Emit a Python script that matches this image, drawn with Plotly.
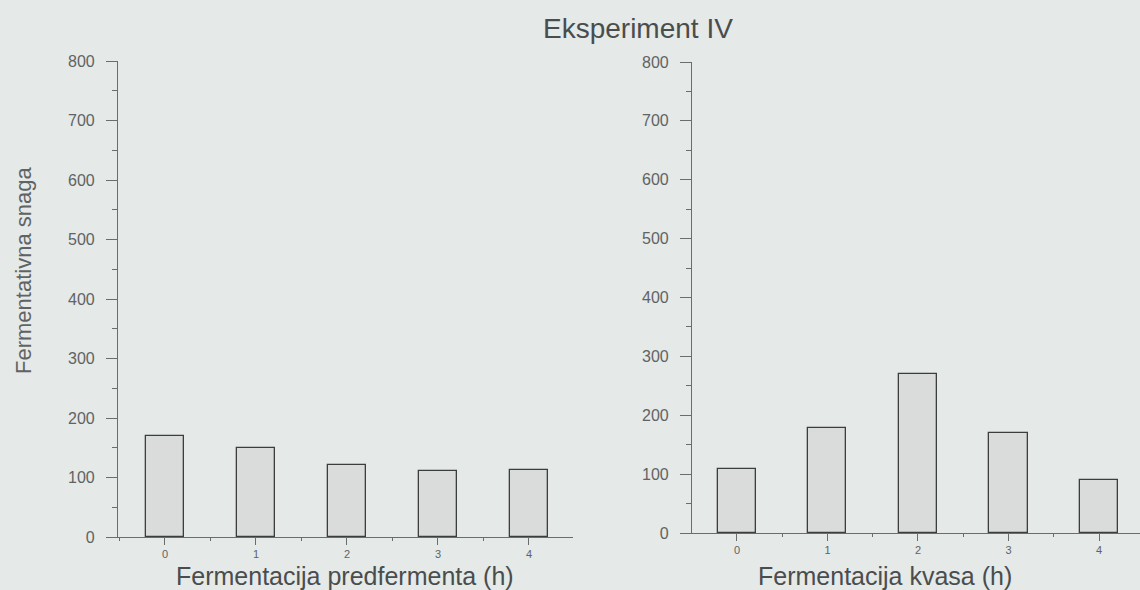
import plotly.graph_objects as go

# Data
hours = [0, 1, 2, 3, 4]
predferment_values = [170, 150, 121, 111, 113]
kvas_values = [109, 178, 270, 170, 90]
y_ticks = [0, 100, 200, 300, 400, 500, 600, 700, 800]

title_text = "Eksperiment IV"
y_title = "Fermentativna snaga"
x_title_left = "Fermentacija predfermenta (h)"
x_title_right = "Fermentacija kvasa (h)"

BG = "#e5e9e8"
TXT = "#5f6363"
AX = "#6a6d6d"
FONT = "Liberation Sans, Arial, sans-serif"

fig = go.Figure()
bar_style = dict(marker=dict(color="#d9dcda", line=dict(color="#3c3e3e", width=1.3)),
                 width=0.42, showlegend=False, hoverinfo="x+y")
fig.add_trace(go.Bar(x=hours, y=predferment_values, xaxis="x", yaxis="y", **bar_style))
fig.add_trace(go.Bar(x=hours, y=kvas_values, xaxis="x2", yaxis="y2", **bar_style))

def xaxis(domain, rng, anchor):
    return dict(domain=domain, range=rng, anchor=anchor, tickmode="linear", tick0=0, dtick=1,
                automargin=False,
                showline=True, linecolor=AX, linewidth=1.2, ticks="outside", ticklen=7,
                tickcolor=AX, tickwidth=1.2, showgrid=False, zeroline=False,
                tickfont=dict(family=FONT, size=11, color=TXT), ticklabelstandoff=0,
                minor=dict(ticks="outside", ticklen=3, tickcolor=AX, dtick=0.5, tick0=0.5,
                           showgrid=False),
                fixedrange=True)

def yaxis(domain, anchor):
    return dict(domain=domain, range=[0, 800], anchor=anchor, tickmode="array", tickvals=y_ticks,
                automargin=False,
                showline=True, linecolor=AX, linewidth=1.2, ticks="outside", ticklen=11,
                tickcolor=AX, tickwidth=1.2, showgrid=False, zeroline=False,
                tickfont=dict(family=FONT, size=16, color=TXT), ticklabelstandoff=8,
                minor=dict(ticks="outside", ticklen=5, tickcolor=AX, dtick=50, tick0=50,
                           showgrid=False),
                fixedrange=True)

fig.update_layout(
    width=1140, height=590,
    margin=dict(l=0, r=0, t=0, b=0, pad=0, autoexpand=False),
    paper_bgcolor=BG, plot_bgcolor=BG,
    bargap=0,
    xaxis=xaxis([118 / 1140, 573 / 1140], [-0.516, 4.484], "y"),
    yaxis=yaxis([1 - 537 / 590, 1 - 61 / 590], "x"),
    xaxis2=xaxis([692 / 1140, 1.0], [-0.497, 4.453], "y2"),
    yaxis2=yaxis([1 - 533 / 590, 1 - 62 / 590], "x2"),
    annotations=[
        dict(text=title_text, x=638 / 1140, y=1 - 28 / 590, xref="paper", yref="paper",
             showarrow=False, xanchor="center", yanchor="middle",
             font=dict(family=FONT, size=28, color="#4a4d4d")),
        dict(text=y_title, x=23 / 1140, y=1 - 271 / 590, xref="paper", yref="paper",
             showarrow=False, xanchor="center", yanchor="middle", textangle=-90,
             font=dict(family=FONT, size=22, color=TXT)),
        dict(text=x_title_left, x=345 / 1140, y=0, xref="paper", yref="paper",
             showarrow=False, xanchor="center", yanchor="bottom", borderpad=0, yshift=-1,
             font=dict(family=FONT, size=25, color="#4a4d4d")),
        dict(text=x_title_right, x=885 / 1140, y=0, xref="paper", yref="paper",
             showarrow=False, xanchor="center", yanchor="bottom", borderpad=0, yshift=-1,
             font=dict(family=FONT, size=25, color="#4a4d4d")),
    ],
)

fig.write_html("out.html", config={"displayModeBar": False})
